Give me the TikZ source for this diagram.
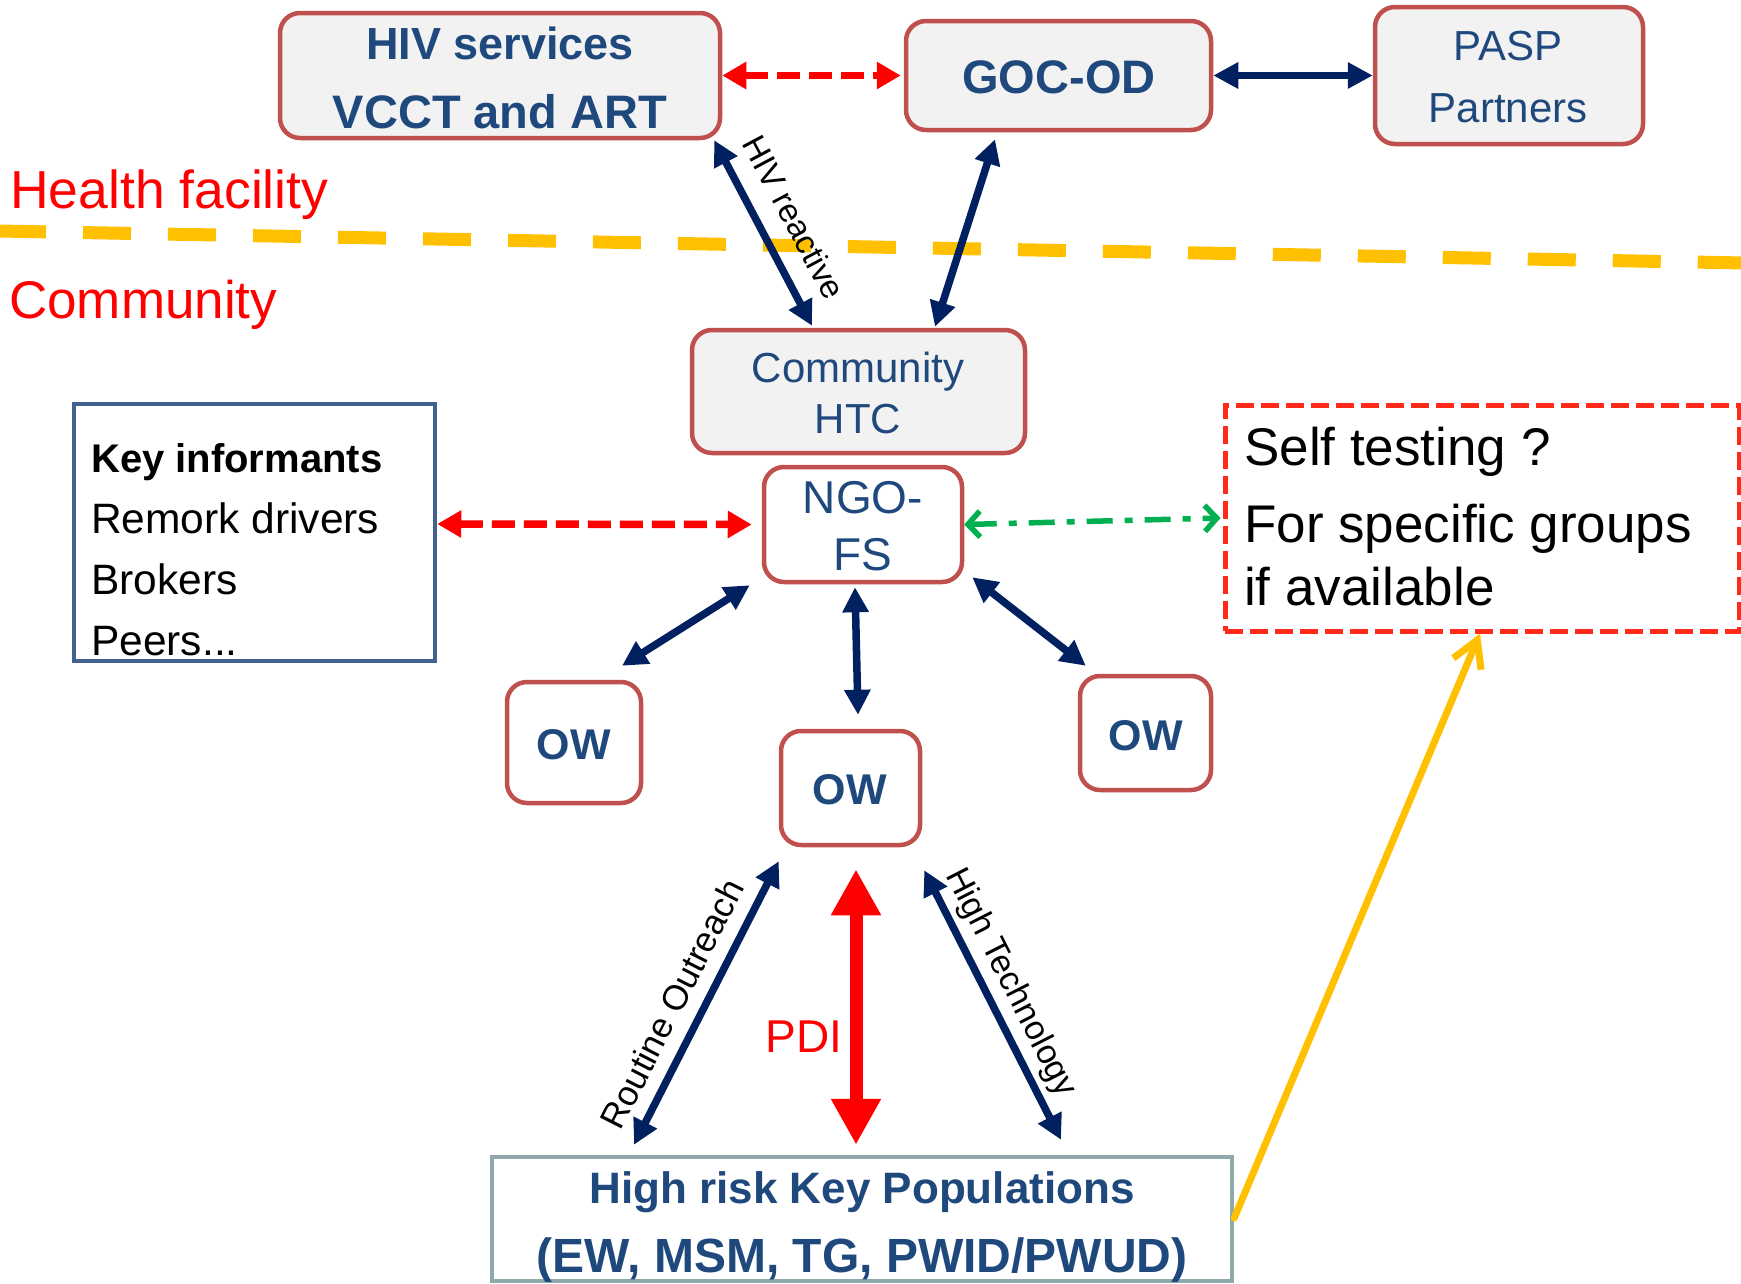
\documentclass[tikz,border=0pt]{standalone}
\usepackage{fontspec}
\setmainfont{Liberation Sans}
\usetikzlibrary{arrows.meta,calc}
\definecolor{boxred}{HTML}{C0504D}
\definecolor{boxfill}{HTML}{F2F2F2}
\definecolor{txtblue}{HTML}{1F497D}
\definecolor{navy}{HTML}{002060}
\definecolor{kiblue}{HTML}{41628F}
\definecolor{hrgray}{HTML}{8FA8A9}
\definecolor{selfred}{HTML}{FF2A1A}
\definecolor{yel}{HTML}{FFC000}
\definecolor{grn}{HTML}{00B050}
\newcommand\fsz[1]{\fontsize{#1}{#1}\selectfont}
\begin{document}
\begin{tikzpicture}[x=1pt,y=-1pt,
  rbox/.style={draw=boxred, line width=4.5pt, rounded corners=20pt, inner sep=0pt, fill=boxfill},
  wbox/.style={rbox, fill=white},
  sqbox/.style={line width=4.5pt, inner sep=0pt, fill=white},
  txt/.style={anchor=base, inner sep=0pt, text=txtblue},
  ltxt/.style={anchor=base west, inner sep=0pt, text=black},
  redtxt/.style={anchor=base west, inner sep=0pt, text=red},
  lbl/.style={inner sep=0pt, text=black},
  navyarr/.style={draw=navy, line width=7.5pt, arrows={Triangle[length=25pt,width=25pt]-Triangle[length=25pt,width=25pt]}},
  redarr/.style={draw=red, line width=7.5pt, dash pattern=on 23pt off 9pt, arrows={Triangle[length=24pt,width=26pt]-Triangle[length=24pt,width=26pt]}},
  grnarr/.style={draw=grn, line width=5.5pt, dash pattern=on 26pt off 12pt on 8pt off 12pt, arrows={Straight Barb[length=12pt,width=26pt]-Straight Barb[length=12pt,width=26pt]}},
  pdiarr/.style={draw=red, line width=13pt, arrows={Triangle[length=46pt,width=47pt]-Triangle[length=46pt,width=47pt]}},
  yelarr/.style={draw=yel, line width=7pt, line cap=round, arrows={-Straight Barb[length=26pt,width=30pt]}}
]
\useasboundingbox (0,0) rectangle (1741,1283);
\fill[white] (0,0) rectangle (1741,1283);

% boundary line
\draw[yel, line width=13pt, dash pattern=on 48pt off 37pt] (-2,231) -- (1745,263);

% boxes
\node[rbox, minimum width=440pt, minimum height=125pt] (hiv) at (500,75.5) {};
\node[rbox, minimum width=305pt, minimum height=109pt] (goc) at (1058.5,75.5) {};
\node[rbox, minimum width=268pt, minimum height=137pt] (pasp) at (1509,75.5) {};
\node[rbox, minimum width=333pt, minimum height=123pt] (htc) at (858.5,391.5) {};
\node[sqbox, draw=kiblue, minimum width=361pt, minimum height=257pt] (ki) at (254.5,532.5) {};
\node[wbox, minimum width=198pt, minimum height=115pt] (ngo) at (863,524.5) {};
\node[sqbox, draw=selfred, line width=5pt, dash pattern=on 18pt off 7pt, minimum width=514pt, minimum height=226pt] (self) at (1482,518) {};
\node[wbox, minimum width=134pt, minimum height=121pt] (owl) at (574,742.5) {};
\node[wbox, minimum width=139pt, minimum height=114pt] (owm) at (850.5,788) {};
\node[wbox, minimum width=131pt, minimum height=114pt] (owr) at (1145.5,733) {};
\node[sqbox, draw=hrgray, minimum width=740pt, minimum height=124pt] (hr) at (862,1219) {};

% texts
\node[txt, font=\fsz{45}\bfseries] (hivA) at (500,59) {HIV services};
\node[txt, font=\fsz{47}\bfseries] (hivB) at (500,128) {VCCT and ART};
\node[txt, font=\fsz{47}\bfseries] (gocT) at (1059,93) {GOC-OD};
\node[txt, font=\fsz{42}] (paspA) at (1508,60) {PASP};
\node[txt, font=\fsz{42}] (paspB) at (1508,122) {Partners};
\node[redtxt, font=\fsz{53.5}] (hf) at (10,208) {Health facility};
\node[redtxt, font=\fsz{53}] (cm) at (9,318) {Community};
\node[txt, font=\fsz{42}] (htcA) at (858,382) {Community};
\node[txt, font=\fsz{42}] (htcB) at (858,433) {HTC};
\node[ltxt, font=\fsz{40}\bfseries] (kiA) at (91,472) {Key informants};
\node[ltxt, font=\fsz{42.5}] (kiB) at (91,533) {Remork drivers};
\node[ltxt, font=\fsz{42.5}] (kiC) at (91,594) {Brokers};
\node[ltxt, font=\fsz{42.5}] (kiD) at (91,655) {Peers...};
\node[txt, font=\fsz{46}] (ngoA) at (863,513) {NGO-};
\node[txt, font=\fsz{46}] (ngoB) at (863,570) {FS};
\node[ltxt, font=\fsz{53}] (selfA) at (1244,465) {Self testing ?};
\node[ltxt, font=\fsz{53}] (selfB) at (1244,542) {For specific groups};
\node[ltxt, font=\fsz{53}] (selfC) at (1244,605) {if available};
\node[txt, font=\fsz{43}\bfseries] (owlT) at (574,759) {OW};
\node[txt, font=\fsz{43}\bfseries] (owmT) at (850,804) {OW};
\node[txt, font=\fsz{43}\bfseries] (owrT) at (1146,750) {OW};
\node[txt, text=red, font=\fsz{46}] (pdiT) at (804,1052) {PDI};
\node[txt, font=\fsz{44}\bfseries] (hrA) at (862,1203) {High risk Key Populations};
\node[txt, font=\fsz{48}\bfseries] (hrB) at (862,1272) {(EW, MSM, TG, PWID/PWUD)};

% connectors
\draw[navyarr] (goc.east) -- (pasp.west);
\draw[redarr] (hiv.east) -- ([xshift=-3pt]goc.west);
\draw[navyarr] ([xshift=-8pt]hiv.south east) -- ([xshift=-46.5pt,yshift=2pt]htc.north);
\draw[navyarr] ([xshift=-63.5pt,yshift=-7pt]goc.south) -- ([xshift=76.5pt,yshift=1pt]htc.north);
\draw[redarr] ([yshift=8.5pt]ki.east) -- ([xshift=-10pt]ngo.west);
\draw[grnarr] (ngo.east) -- ([xshift=-2pt]self.west);
\draw[navyarr] ([xshift=-12pt,yshift=-1pt]ngo.south west) -- ([xshift=48pt,yshift=14pt]owl.north);
\draw[navyarr] ([xshift=-8pt,yshift=-3pt]ngo.south) -- ([xshift=7.5pt,yshift=14pt]owm.north);
\draw[navyarr] ([xshift=8pt,yshift=7pt]ngo.south east) -- ([xshift=8pt,yshift=8pt]owr.north west);
\draw[navyarr] ([yshift=-14pt]owm.south west) -- ([xshift=-228pt,yshift=10pt]hr.north);
\draw[pdiarr] ([xshift=5.5pt,yshift=-22pt]owm.south) -- ([xshift=-6pt,yshift=10pt]hr.north);
\draw[navyarr] ([xshift=2pt,yshift=-23pt]owm.south east) -- ([xshift=199pt,yshift=15pt]hr.north);
\draw[yelarr] ([yshift=1pt]hr.east) -- ([xshift=-2pt]self.south);

% connector labels
\node[lbl, rotate=-62, font=\fsz{33}] (hivr) at (794,217) {HIV reactive};
\node[lbl, rotate=63, font=\fsz{35}] (ro) at (672,1004) {Routine Outreach};
\node[lbl, rotate=-63, font=\fsz{34}] (ht) at (1010,983) {High Technology};
\end{tikzpicture}
\end{document}
